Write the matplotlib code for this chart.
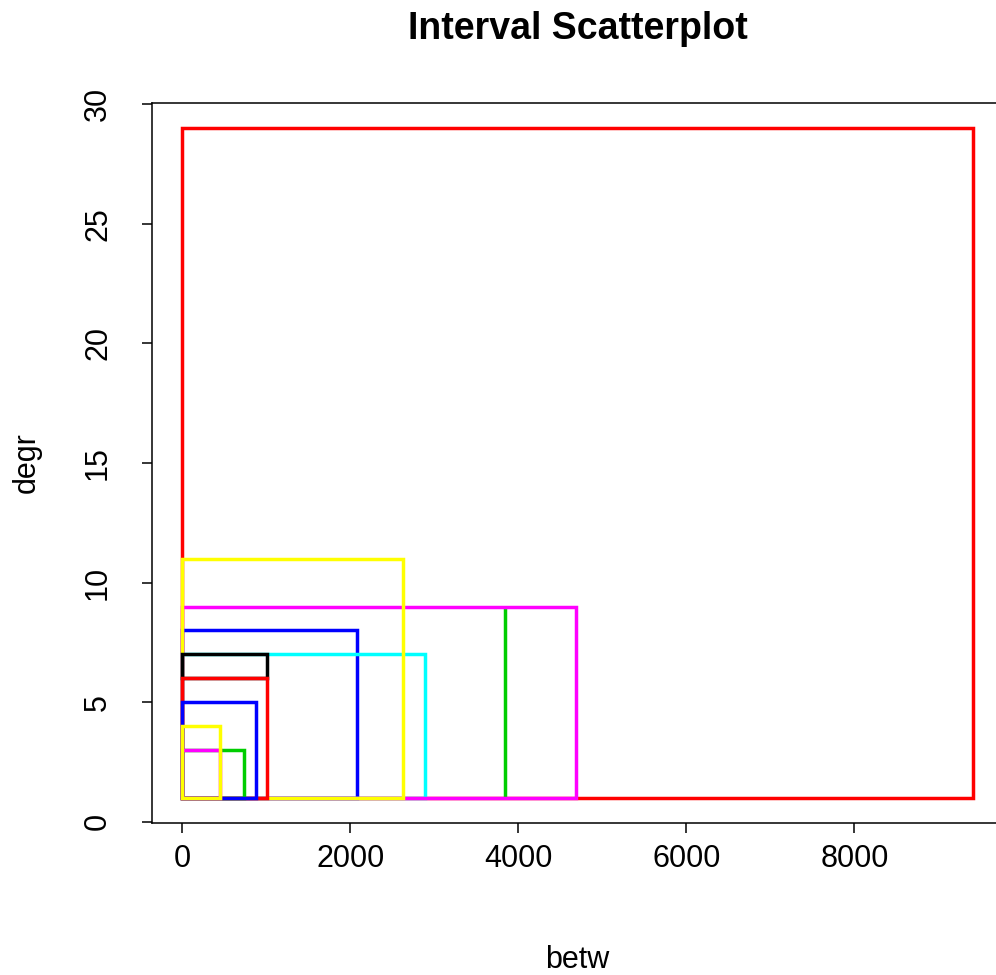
import matplotlib.pyplot as plt
from matplotlib.patches import Rectangle

# --- Data: one interval (rectangle) per observation, in drawing order ---
betw_lo = [0, 3845, 0, 0, 0, 0, 0, 0, 0, 0, 0, 0]
betw_hi = [9410, 3845, 2085, 2885, 4690, 2623, 1015, 1015, 740, 885, 452, 452]
degr_lo = [1, 1, 1, 1, 1, 1, 6, 1, 1, 1, 1, 1]
degr_hi = [29, 9, 8, 7, 9, 11, 7, 6, 3, 5, 3, 4]
colors = ['#FF0000', '#00CD00', '#0000FF', '#00FFFF', '#FF00FF', '#FFFF00',
          '#000000', '#FF0000', '#00CD00', '#0000FF', '#FF00FF', '#FFFF00']

x_ticks = [0, 2000, 4000, 6000, 8000]
y_ticks = [0, 5, 10, 15, 20, 25, 30]

plt.rcParams['font.family'] = ['Liberation Sans', 'DejaVu Sans']

fig = plt.figure(figsize=(9.96, 9.75), dpi=100)
# axes placed like the R plot region; right side runs just past the figure edge
ax = fig.add_axes([152 / 996, (975 - 823) / 975, 851 / 996, 720 / 975])

for x0, x1, y0, y1, c in zip(betw_lo, betw_hi, degr_lo, degr_hi, colors):
    ax.add_patch(Rectangle((x0, y0), x1 - x0, y1 - y0, fill=False,
                           edgecolor=c, linewidth=2.5, joinstyle='miter'))

# padding around the data range, roughly like R's default
xmin, xmax = min(betw_lo), max(betw_hi)
xpad = 0.038 * (xmax - xmin)
ax.set_xlim(xmin - xpad, xmax + xpad)
ax.set_ylim(-0.05, 30.05)

ax.set_xticks(x_ticks)
ax.set_yticks(y_ticks)
ax.set_xticklabels([str(t) for t in x_ticks], fontsize=22)
ax.set_yticklabels([str(t) for t in y_ticks], fontsize=22, rotation=90, va='center')
ax.tick_params(direction='out', length=7, width=1.1)
ax.tick_params(axis='x', pad=8)
ax.tick_params(axis='y', pad=21)
for s in ax.spines.values():
    s.set_linewidth(1.1)

ax.set_xlabel('betw', fontsize=22, va='center')
ax.xaxis.set_label_coords(0.5, (823 - 960) / 720)
ax.set_ylabel('degr', fontsize=22, va='center')
ax.yaxis.set_label_coords((27 - 152) / 851, 0.5)
ax.set_title('Interval Scatterplot', fontsize=27, fontweight='bold',
             y=(823 - 37) / 720, va='center')

fig.savefig('out.png', dpi=100)
